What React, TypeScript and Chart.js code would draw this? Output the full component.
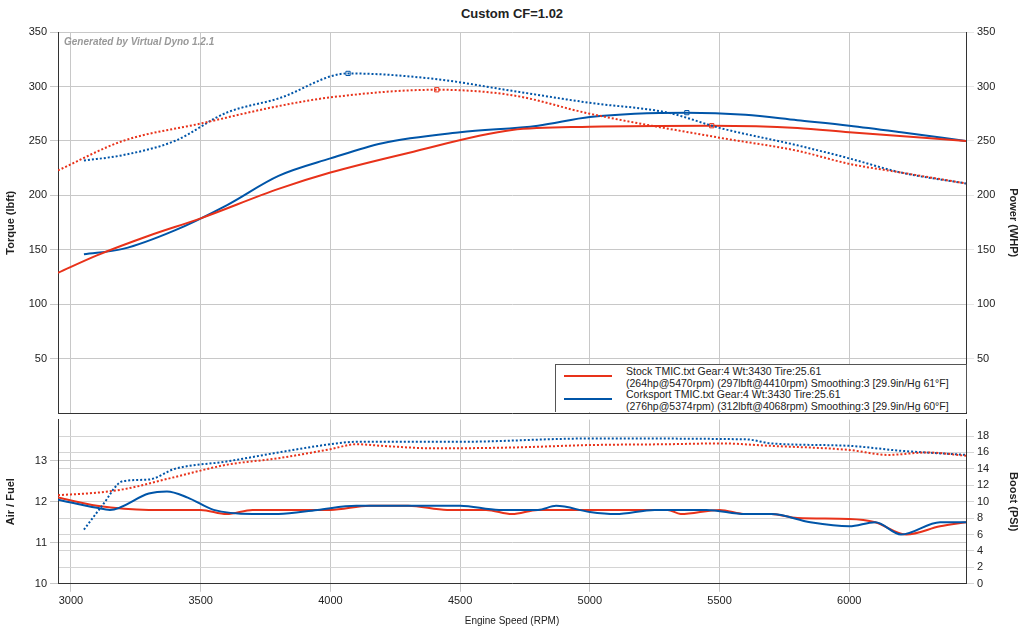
import React, { useEffect, useRef } from "react";
import { Chart, registerables } from "chart.js";
Chart.register(...registerables);

const RED = "#e8321a";
const BLUE = "#0055a8";

const stockTorqueRpm = [2950, 3200, 3500, 3800, 4000, 4410, 4700, 5000, 5500, 5800, 6000, 6200, 6450];
const stockTorque = [223, 250, 266, 282, 290, 297, 292, 275, 253, 241, 229, 221, 211];
const corkTorqueRpm = [3050, 3200, 3400, 3600, 3800, 4068, 4400, 4700, 5000, 5300, 5500, 5800, 6000, 6200, 6450];
const corkTorque = [232, 237, 250, 276, 289, 312, 307, 296, 285, 276, 262, 246, 234, 221, 211];
const stockPowerRpm = [2950, 3100, 3300, 3500, 3800, 4000, 4300, 4700, 5000, 5470, 5800, 6000, 6450];
const stockPower = [129, 145, 163, 179, 206, 221, 239, 260, 263, 264, 262, 258, 250];
const corkPowerRpm = [3050, 3200, 3400, 3600, 3800, 4000, 4200, 4500, 4800, 5000, 5374, 5600, 5800, 6000, 6200, 6450];
const corkPower = [146, 151, 168, 191, 218, 234, 248, 258, 264, 272, 276, 274, 269, 264, 258, 250];

const stockAfrRpm = [2950, 3100, 3300, 3500, 3600, 3700, 4000, 4150, 4300, 4450, 4600, 4700, 4800, 5300, 5350, 5500, 5600, 5700, 5800, 6000, 6100, 6220, 6350, 6450];
const stockAfr = [12.1, 11.9, 11.8, 11.8, 11.7, 11.8, 11.8, 11.9, 11.9, 11.8, 11.8, 11.7, 11.8, 11.8, 11.7, 11.8, 11.7, 11.7, 11.6, 11.58, 11.5, 11.2, 11.4, 11.5];
const corkAfrRpm = [2950, 3100, 3150, 3300, 3370, 3450, 3550, 3700, 3800, 3950, 4100, 4500, 4650, 4800, 4870, 5000, 5100, 5250, 5450, 5600, 5700, 5850, 6000, 6100, 6200, 6350, 6450];
const corkAfr = [12.05, 11.85, 11.8, 12.2, 12.25, 12.1, 11.8, 11.7, 11.7, 11.8, 11.9, 11.9, 11.8, 11.8, 11.9, 11.75, 11.7, 11.8, 11.8, 11.7, 11.7, 11.5, 11.4, 11.5, 11.2, 11.5, 11.5];
const stockBoostRpm = [2950, 3100, 3200, 3400, 3600, 3800, 4000, 4100, 4200, 4400, 4700, 5000, 5300, 5500, 5700, 6000, 6150, 6300, 6450];
const stockBoost = [10.8, 11.1, 11.5, 13, 14.5, 15.3, 16.4, 17, 16.8, 16.5, 16.6, 16.9, 17, 17.1, 16.8, 16.3, 15.7, 16, 15.6];
const corkBoostRpm = [3050, 3120, 3200, 3300, 3400, 3600, 3800, 4000, 4100, 4500, 5000, 5600, 5700, 6000, 6200, 6450];
const corkBoost = [6.6, 9.5, 12.5, 12.7, 14, 14.9, 16, 17, 17.3, 17.3, 17.7, 17.6, 17.1, 16.8, 16.2, 15.7];

const rpmTicks = [3000, 3500, 4000, 4500, 5000, 5500, 6000];
const torqueTicks = [50, 100, 150, 200, 250, 300, 350];
const afrTicks = [10, 11, 12, 13];
const boostTicks = [0, 2, 4, 6, 8, 10, 12, 14, 16, 18];
const legendLines = [
  "Stock TMIC.txt Gear:4 Wt:3430 Tire:25.61",
  "(264hp@5470rpm) (297lbft@4410rpm) Smoothing:3 [29.9in/Hg 61°F]",
  "Corksport TMIC.txt Gear:4 Wt:3430 Tire:25.61",
  "(276hp@5374rpm) (312lbft@4068rpm) Smoothing:3 [29.9in/Hg 60°F]",
];

const pts = (xs: number[], ys: number[]) => xs.map((x, i) => ({ x, y: ys[i] }));
const FONT = "'Liberation Sans', Arial, sans-serif";

function line(data: any, color: string, dotted: boolean, axis: string, markIdx = -1) {
  return {
    data, borderColor: color, borderWidth: 2, borderDash: dotted ? [2, 2] : [],
    yAxisID: axis, cubicInterpolationMode: "monotone" as const,
    pointRadius: data.map((_: any, i: number) => (i === markIdx ? 3 : 0)),
    pointStyle: "rect", pointBackgroundColor: "rgba(0,0,0,0)", pointBorderColor: color, pointBorderWidth: 1,
  };
}

const grid = { color: "#c8c8c8", lineWidth: 1 };
const tickFont = { family: FONT, size: 11 };
const titleFont = { family: FONT, size: 11, weight: "bold" as const };
const plain = (v: any) => String(v);
const tk = { font: tickFont, color: "#222", autoSkip: false, callback: plain };
const setTicks = (vals: number[]) => (s: any) => { s.ticks = vals.map((value) => ({ value })); };

export default function App() {
  const topRef = useRef<HTMLCanvasElement>(null);
  const botRef = useRef<HTMLCanvasElement>(null);
  useEffect(() => {
    const fixW = (w: number) => (s: any) => { s.width = w; };
    const top = new Chart(topRef.current!, {
      type: "line",
      data: {
        datasets: [
          line(pts(stockTorqueRpm, stockTorque), RED, true, "y", 5),
          line(pts(corkTorqueRpm, corkTorque), BLUE, true, "y", 5),
          line(pts(stockPowerRpm, stockPower), RED, false, "y2", 9),
          line(pts(corkPowerRpm, corkPower), BLUE, false, "y2", 10),
        ],
      },
      options: {
        animation: false, responsive: false, maintainAspectRatio: false,
        layout: { padding: { top: 32, bottom: 0, left: 0, right: 0 } },
        plugins: { legend: { display: false }, tooltip: { enabled: false } },
        scales: {
          x: { type: "linear", min: 2950, max: 6450, afterBuildTicks: setTicks(rpmTicks), ticks: { display: false }, grid: { ...grid, drawTicks: false }, border: { color: "#333" }, afterFit: (s: any) => { s.height = 0; } },
          y: { min: 0, max: 350, afterBuildTicks: setTicks(torqueTicks), ticks: tk, grid, border: { color: "#333" },
            title: { display: true, text: "Torque (lbft)", font: titleFont, color: "#222" }, afterFit: fixW(58) },
          y2: { position: "right", min: 0, max: 350, afterBuildTicks: setTicks(torqueTicks), ticks: tk, grid: { drawOnChartArea: false }, border: { color: "#333" },
            title: { display: true, text: "Power (WHP)", font: titleFont, color: "#222" }, afterFit: fixW(58) },
        },
      } as any,
    });
    const bot = new Chart(botRef.current!, {
      type: "line",
      data: {
        datasets: [
          line(pts(stockBoostRpm, stockBoost), RED, true, "y2"),
          line(pts(corkBoostRpm, corkBoost), BLUE, true, "y2"),
          line(pts(corkAfrRpm, corkAfr), BLUE, false, "y"),
          line(pts(stockAfrRpm, stockAfr), RED, false, "y"),
        ],
      },
      options: {
        animation: false, responsive: false, maintainAspectRatio: false,
        layout: { padding: { top: 4, bottom: 0 } },
        plugins: { legend: { display: false }, tooltip: { enabled: false } },
        scales: {
          x: { type: "linear", min: 2950, max: 6450, afterBuildTicks: setTicks(rpmTicks), ticks: tk, grid, border: { color: "#333" },
            title: { display: true, text: "Engine Speed (RPM)", font: { family: FONT, size: 10 }, color: "#222" } },
          y: { min: 10, max: 14, afterBuildTicks: setTicks(afrTicks), ticks: tk, grid, border: { color: "#333" },
            title: { display: true, text: "Air / Fuel", font: titleFont, color: "#222" }, afterFit: fixW(58) },
          y2: { position: "right", min: 0, max: 20, afterBuildTicks: setTicks(boostTicks), ticks: tk, grid: { color: "#d4d4d4", borderDash: [1, 2] }, border: { color: "#333" },
            title: { display: true, text: "Boost (PSI)", font: titleFont, color: "#222" }, afterFit: fixW(58) },
        },
      } as any,
    });
    return () => { top.destroy(); bot.destroy(); };
  }, []);
  return (
    <div style={{ position: "fixed", left: 0, top: 0, width: 1024, height: 630, background: "#fff", fontFamily: FONT }}>
      <div style={{ position: "absolute", top: 6, width: 1024, textAlign: "center", fontWeight: "bold", fontSize: 13, color: "#222" }}>Custom CF=1.02</div>
      <canvas ref={topRef} width={1024} height={423} style={{ position: "absolute", left: 0, top: 0 }} />
      <canvas ref={botRef} width={1024} height={221} style={{ position: "absolute", left: 0, top: 410 }} />
      <div style={{ position: "absolute", left: 64, top: 36, fontSize: 10, fontStyle: "italic", fontWeight: "bold", color: "#999" }}>Generated by Virtual Dyno 1.2.1</div>
      <div style={{ position: "absolute", left: 555, top: 364, width: 410, height: 47, background: "#fff", border: "1px solid #555", borderBottom: "none", fontSize: 10.5, color: "#222", lineHeight: "11.5px" }}>
        <div style={{ position: "absolute", left: 8, top: 10, width: 48, height: 2, background: RED }} />
        <div style={{ position: "absolute", left: 8, top: 33, width: 48, height: 2, background: BLUE }} />
        <div style={{ position: "absolute", left: 70, top: 1, whiteSpace: "nowrap" }}>
          {legendLines.map((t, i) => <div key={i}>{t}</div>)}
        </div>
      </div>
    </div>
  );
}
